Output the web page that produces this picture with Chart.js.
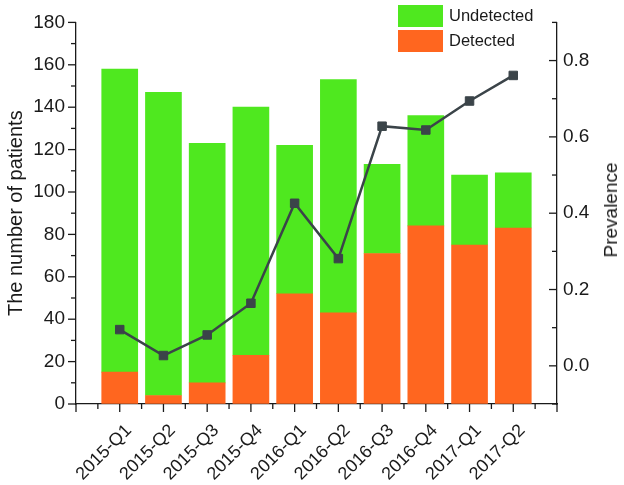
<!DOCTYPE html>
<html>
<head>
<meta charset="utf-8">
<script src="https://cdn.jsdelivr.net/npm/chart.js@4/dist/chart.umd.min.js"></script>
<style>
  html, body { margin: 0; padding: 0; background: #fff; }
  #wrap { position: relative; width: 624px; height: 485px; }
  #legend { position: absolute; left: 398px; top: 3px; font-family: 'Liberation Sans', Arial, sans-serif; font-size: 16.5px; color: #1a1a1a; }
  .item { display: flex; align-items: center; height: 25px; }
  .box { width: 45px; height: 22px; margin-right: 6px; }
  #rtitle { position: absolute; left: 611px; top: 210px; transform: translate(-50%, -50%) rotate(-90deg);
            font-family: 'Liberation Sans', Arial, sans-serif; font-size: 19px; color: #1a1a1a; white-space: nowrap; }
</style>
</head>
<body>
<div id="wrap">
  <canvas id="chart" width="624" height="485"></canvas>
  <div id="legend">
    <div class="item"><span class="box" style="background:#4fe81f"></span>Undetected</div>
    <div class="item"><span class="box" style="background:#ff661f"></span>Detected</div>
  </div>
  <div id="rtitle">Prevalence</div>
</div>
<script>
const quarters = ['2015-Q1', '2015-Q2', '2015-Q3', '2015-Q4', '2016-Q1', '2016-Q2', '2016-Q3', '2016-Q4', '2017-Q1', '2017-Q2'];
const detected = [15, 4, 10, 23, 52, 43, 71, 84, 75, 83];
const undetected = [143, 143, 113, 117, 70, 110, 42, 52, 33, 26];
const prevalence = [0.095, 0.027, 0.081, 0.164, 0.426, 0.281, 0.628, 0.618, 0.694, 0.761];

const FONT = "'Liberation Sans', Arial, Helvetica, sans-serif";
const INK = '#1a1a1a';

// bars sit on a linear x axis at 1..10, with an empty slot at each end
const pts = arr => arr.map((v, i) => ({ x: i + 1, y: v }));

// outward ticks on left/bottom, inward on the right axis, long on labelled values
const axisTicks = {
  id: 'axisTicks',
  afterDraw(chart) {
    const { ctx } = chart;
    const { x, y, y1 } = chart.scales;
    ctx.save();
    ctx.strokeStyle = INK;
    ctx.lineWidth = 1.3;
    const line = (a, b, c, d) => { ctx.beginPath(); ctx.moveTo(a, b); ctx.lineTo(c, d); ctx.stroke(); };
    x.ticks.forEach(t => {
      const px = x.getPixelForValue(t.value);
      line(px, x.top, px, x.top + (Number.isInteger(t.value) ? 8 : 5));
    });
    y.ticks.forEach(t => {
      const py = y.getPixelForValue(t.value);
      line(y.right, py, y.right - (t.value % 20 === 0 ? 8 : 5), py);
    });
    y1.ticks.forEach(t => {
      const py = y1.getPixelForValue(t.value);
      line(y1.left, py, y1.left - (Math.round(t.value * 10) % 2 === 0 ? 8 : 5), py);
    });
    ctx.restore();
  }
};

new Chart(document.getElementById('chart'), {
  data: {
    datasets: [
      {
        type: 'line',
        label: 'Prevalence',
        data: pts(prevalence),
        yAxisID: 'y1',
        borderColor: '#3b4449',
        backgroundColor: '#3b4449',
        borderWidth: 2.5,
        pointStyle: 'rect',
        pointRadius: 6,
        pointBorderWidth: 1,
        tension: 0,
        order: 0
      },
      {
        type: 'bar',
        label: 'Detected',
        data: pts(detected),
        backgroundColor: '#ff661f',
        yAxisID: 'y',
        barThickness: 36,
        order: 2
      },
      {
        type: 'bar',
        label: 'Undetected',
        data: pts(undetected),
        backgroundColor: '#4fe81f',
        yAxisID: 'y',
        barThickness: 36,
        order: 2
      }
    ]
  },
  options: {
    responsive: false,
    animation: false,
    layout: { padding: { top: 15 } },
    plugins: { legend: { display: false }, tooltip: { enabled: false } },
    scales: {
      x: {
        type: 'linear',
        offset: false,
        stacked: true,
        min: 0,
        max: 11,
        afterFit: s => { s.height = 81; s.paddingLeft = 0; s.paddingRight = 0; },
        border: { color: INK, width: 1.3 },
        grid: { offset: false, drawOnChartArea: false, drawTicks: false },
        ticks: {
          stepSize: 0.5,
          autoSkip: false,
          maxRotation: 45,
          minRotation: 45,
          padding: 16,
          labelOffset: 9,
          color: INK,
          font: { family: FONT, size: 18 },
          callback: v => (Number.isInteger(v) && v >= 1 && v <= quarters.length) ? quarters[v - 1] : ''
        }
      },
      y: {
        position: 'left',
        stacked: true,
        min: 0,
        max: 180,
        afterFit: s => { s.width = 76; },
        border: { color: INK, width: 1.3 },
        grid: { drawOnChartArea: false, drawTicks: false },
        ticks: {
          stepSize: 10,
          autoSkip: false,
          padding: 11,
          color: INK,
          font: { family: FONT, size: 19 },
          callback: v => v % 20 === 0 ? v : ''
        },
        title: {
          display: true,
          text: 'The number of patients',
          color: INK,
          font: { family: FONT, size: 20 },
          padding: { top: 4, bottom: 0 }
        }
      },
      y1: {
        position: 'right',
        min: -0.1,
        max: 0.9,
        afterFit: s => { s.width = 67; },
        border: { color: INK, width: 1.3 },
        grid: { drawOnChartArea: false, drawTicks: false },
        ticks: {
          stepSize: 0.1,
          autoSkip: false,
          padding: 6,
          color: INK,
          font: { family: FONT, size: 19 },
          callback: v => {
            const k = Math.round(v * 10);
            return (k >= 0 && k <= 8 && k % 2 === 0) ? (k / 10).toFixed(1) : '';
          }
        }
      }
    }
  },
  plugins: [axisTicks]
});
</script>
</body>
</html>
